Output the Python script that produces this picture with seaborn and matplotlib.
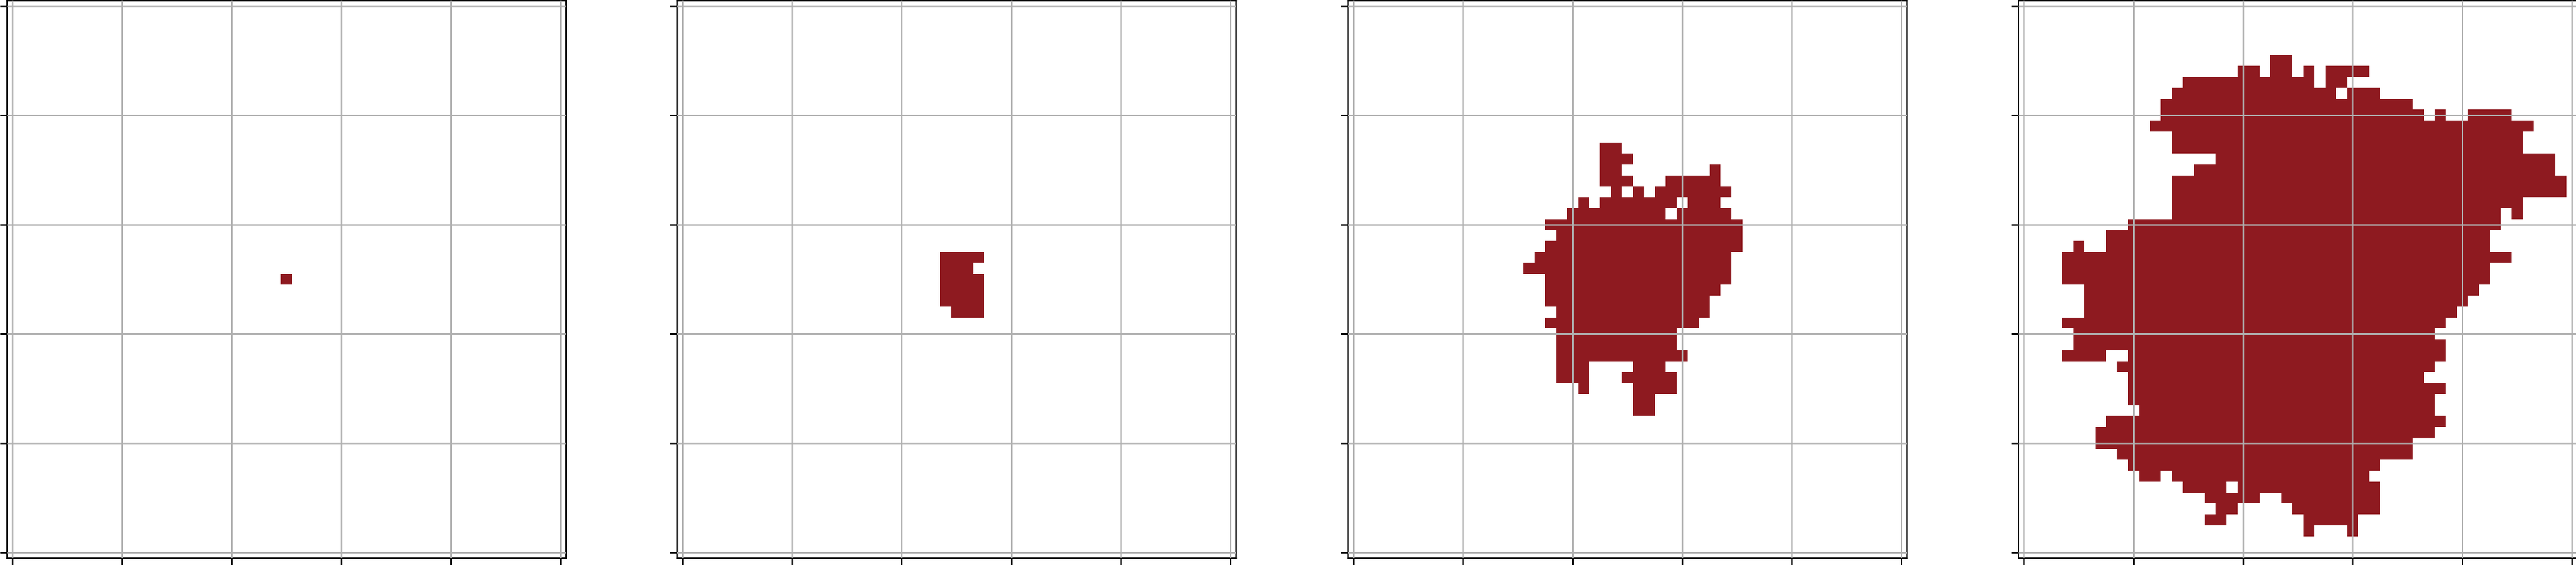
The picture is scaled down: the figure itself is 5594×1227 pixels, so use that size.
import numpy as np
import matplotlib
matplotlib.use("Agg")
import matplotlib.pyplot as plt
from matplotlib.colors import ListedColormap
import seaborn as sns

# Tamanho da grade (51 x 51 células)
n = 51
ticks = [0, 10, 20, 30, 40, 50]
cor = '#8E1A20'

# Células ocupadas em cada etapa: linha -> lista de intervalos de colunas (inclusive)
etapa_1 = {25: [(25, 25)]}

etapa_2 = {
    23: [(24, 27)],
    24: [(24, 26)],
    25: [(24, 27)],
    26: [(24, 27)],
    27: [(24, 27)],
    28: [(25, 27)],
}

etapa_3 = {
    13: [(23, 24)],
    14: [(23, 25)],
    15: [(23, 24), (33, 33)],
    16: [(23, 25), (29, 33)],
    17: [(24, 24), (26, 26), (28, 34)],
    18: [(21, 21), (23, 29), (31, 33)],
    19: [(20, 28), (30, 34)],
    20: [(18, 35)],
    21: [(19, 35)],
    22: [(18, 35)],
    23: [(17, 34)],
    24: [(16, 34)],
    25: [(18, 34)],
    26: [(18, 33)],
    27: [(18, 32)],
    28: [(19, 32)],
    29: [(18, 31)],
    30: [(19, 29)],
    31: [(19, 29)],
    32: [(19, 30)],
    33: [(19, 21), (26, 28)],
    34: [(19, 21), (25, 29)],
    35: [(21, 21), (26, 29)],
    36: [(26, 27)],
    37: [(26, 27)],
}

etapa_4 = {
    5: [(23, 24)],
    6: [(20, 21), (23, 24), (26, 26), (28, 31)],
    7: [(15, 26), (28, 29)],
    8: [(14, 28), (30, 32)],
    9: [(13, 35)],
    10: [(13, 36), (38, 38), (41, 44)],
    11: [(12, 46)],
    12: [(14, 45)],
    13: [(14, 45)],
    14: [(18, 48)],
    15: [(16, 48)],
    16: [(14, 49)],
    17: [(14, 49)],
    18: [(14, 45)],
    19: [(14, 43), (45, 45)],
    20: [(10, 43)],
    21: [(8, 42)],
    22: [(5, 5), (8, 42)],
    23: [(4, 44)],
    24: [(4, 42)],
    25: [(4, 42)],
    26: [(6, 41)],
    27: [(6, 40)],
    28: [(6, 39)],
    29: [(4, 38)],
    30: [(5, 37)],
    31: [(5, 38)],
    32: [(4, 7), (10, 38)],
    33: [(9, 37)],
    34: [(10, 36)],
    35: [(10, 38)],
    36: [(10, 37)],
    37: [(11, 37)],
    38: [(8, 38)],
    39: [(7, 37)],
    40: [(7, 35)],
    41: [(9, 35)],
    42: [(10, 32)],
    43: [(11, 12), (14, 31)],
    44: [(15, 18), (20, 32)],
    45: [(17, 21), (24, 32)],
    46: [(18, 19), (25, 32)],
    47: [(17, 18), (26, 30)],
    48: [(26, 26), (30, 30)],
}

etapas = [etapa_1, etapa_2, etapa_3, etapa_4]


def monta_grade(etapa):
    grade = np.zeros((n, n))
    for linha, intervalos in etapa.items():
        for c0, c1 in intervalos:
            grade[linha, c0:c1 + 1] = 1
    return grade


# Figura em pixels (dpi 300)
W, H = 5594, 1227
fig = plt.figure(figsize=(W / 300, H / 300), dpi=300)
esquerdas = [15, 1470, 2927, 4383]
largura, altura, base = 1214, 1211, 15

for esq, etapa in zip(esquerdas, etapas):
    ax = fig.add_axes([esq / W, base / H, largura / W, altura / H])
    sns.heatmap(monta_grade(etapa), ax=ax, cmap=ListedColormap(['white', cor]),
                vmin=0, vmax=1, cbar=False)
    ax.set_xticks(np.array(ticks) + 0.5)
    ax.set_yticks(np.array(ticks) + 0.5)
    ax.set_xticklabels([])
    ax.set_yticklabels([])
    ax.tick_params(length=3.5, width=0.8, color='black')
    for sp in ax.spines.values():
        sp.set_visible(True)
        sp.set_color('black')
        sp.set_linewidth(0.8)
    ax.set_axisbelow(False)
    ax.grid(True, color='#b0b0b0', linewidth=0.8)

fig.savefig('out.png', dpi=300)
